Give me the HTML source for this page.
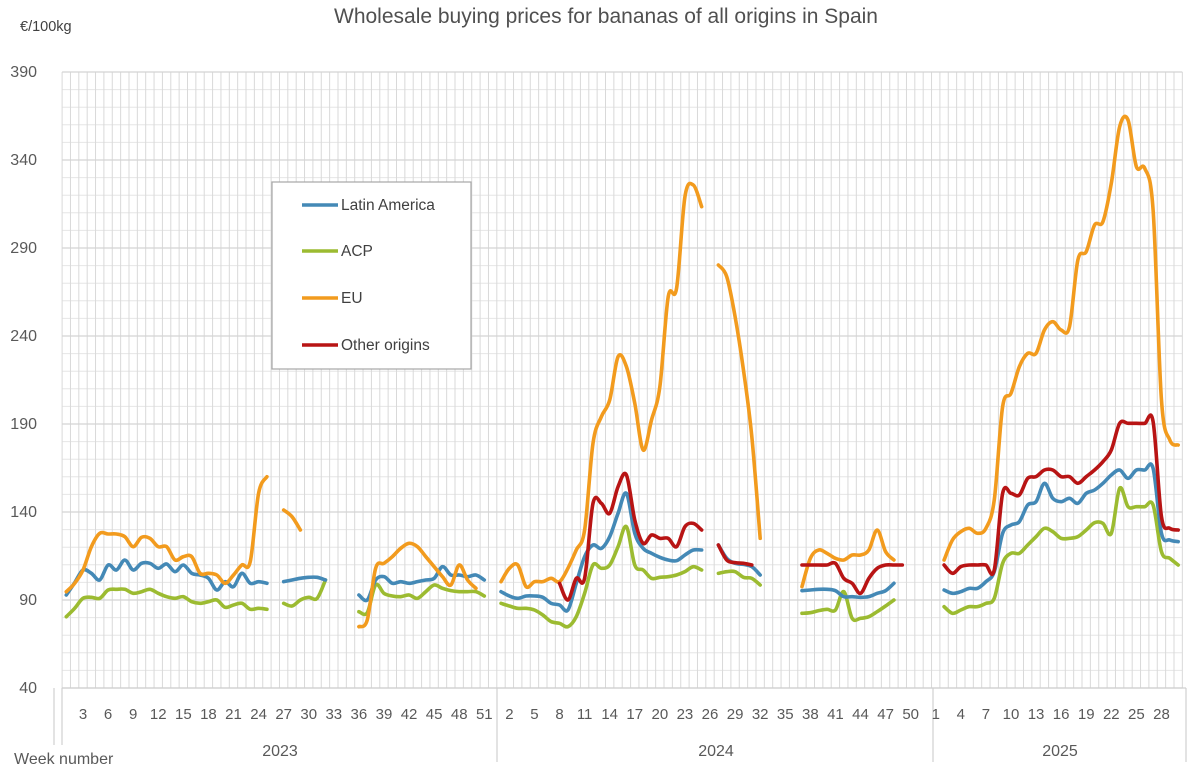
<!DOCTYPE html>
<html><head><meta charset="utf-8"><style>
body{margin:0;background:#fff;}
svg{display:block;font-family:"Liberation Sans",sans-serif;}
</style></head><body>
<svg id="c" width="1200" height="776" xmlns="http://www.w3.org/2000/svg">
<text x="606" y="23" text-anchor="middle" font-size="21" fill="#505050">Wholesale buying prices for bananas of all origins in Spain</text>
<text x="20" y="31" font-size="14.5" fill="#404040">€/100kg</text>
<g id="grid"></g>
<g id="series" fill="none" stroke-width="3.6" stroke-linejoin="round" stroke-linecap="round"></g>
<rect x="272" y="182" width="199" height="187" fill="#fff" stroke="#a6a6a6" stroke-width="1.2"/>
<g stroke-width="3.6">
<line x1="302" y1="205" x2="338" y2="205" stroke="#4489b6"/>
<line x1="302" y1="251" x2="338" y2="251" stroke="#9cbb31"/>
<line x1="302" y1="298" x2="338" y2="298" stroke="#f29b1e"/>
<line x1="302" y1="345" x2="338" y2="345" stroke="#b81414"/>
</g>
<g font-size="15.5" fill="#404040">
<text x="341" y="210">Latin America</text>
<text x="341" y="256">ACP</text>
<text x="341" y="303">EU</text>
<text x="341" y="350">Other origins</text>
</g>
<g id="labels" font-size="16" fill="#595959"></g>
<text x="14" y="764" font-size="16" fill="#595959">Week number</text>
</svg>
<script>
const NS="http://www.w3.org/2000/svg";
function el(p,t,a,txt){const e=document.createElementNS(NS,t);for(const k in a)e.setAttribute(k,a[k]);if(txt!==undefined)e.textContent=txt;p.appendChild(e);return e;}
const g=document.getElementById('grid'),L=document.getElementById('labels'),S=document.getElementById('series');
const X0=62.1,DX=8.36,N=134,Y40=688,PU=1.76;
const yv=v=>Y40-(v-40)*PU;
for(let v=40;v<=390;v+=10){if((v-40)%50)el(g,'line',{x1:X0,x2:X0+N*DX,y1:yv(v),y2:yv(v),stroke:'#e6e6e6','stroke-width':1});}
for(let k=0;k<=N;k++){const x=X0+k*DX;el(g,'line',{x1:x,x2:x,y1:yv(390),y2:Y40,stroke:'#d9d9d9','stroke-width':1});}
for(let v=40;v<=390;v+=50){el(g,'line',{x1:X0,x2:X0+N*DX,y1:yv(v),y2:yv(v),stroke:'#d4d4d4','stroke-width':1.2});
 el(L,'text',{x:37,y:yv(v)+5,'text-anchor':'end'},String(v));}
[[54,688,745],[62,688,745],[497,688,762],[933,688,762],[1186,688,762]].forEach(a=>el(g,'line',{x1:a[0],x2:a[0],y1:a[1],y2:a[2],stroke:'#d0d0d0','stroke-width':1.2}));
el(g,'line',{x1:62,x2:1186,y1:688,y2:688,stroke:'#d0d0d0','stroke-width':1.2});
const xi=i=>66.3+DX*i;
for(let i=0;i<N;i++){if(i%3==2){let w=i<52?i+1:(i<104?i-51:i-103);el(L,'text',{x:xi(i),y:719,'text-anchor':'middle','font-size':15},String(w));}}
el(L,'text',{x:280,y:756,'text-anchor':'middle'},'2023');
el(L,'text',{x:716,y:756,'text-anchor':'middle'},'2024');
el(L,'text',{x:1060,y:756,'text-anchor':'middle'},'2025');
function path(pts){let d='M'+pts[0][0]+','+pts[0][1];
 for(let k=0;k<pts.length-1;k++){const p0=pts[k-1]||pts[k],p1=pts[k],p2=pts[k+1],p3=pts[k+2]||p2,t=6;
  d+=` C${p1[0]+(p2[0]-p0[0])/t},${p1[1]+(p2[1]-p0[1])/t} ${p2[0]-(p3[0]-p1[0])/t},${p2[1]-(p3[1]-p1[1])/t} ${p2[0]},${p2[1]}`;}
 return d;}
function seg(col,year,w0,off,vals){const base=year==2023?-1:(year==2024?51:103);
 const pts=vals.map((v,k)=>[xi(base+w0+k),off===null?v:off+v/3]);
 el(S,'path',{d:path(pts),stroke:col});}
const LA='#4489b6',ACP='#9cbb31',EU='#f29b1e',OT='#b81414';
seg(ACP,2023,1,null,[616.7,608.3,598.3,597.3,598.3,590,589.3,589.3,593.3,591.7,589.3,593.3,596.7,598.3,596.7,601.7,603.3,601.7,600,607.3,605,603.3,609.3,608.3,609.3]);
seg(LA,2023,1,null,[595,582.7,570,573.3,580,565,570,560,570,563.3,563.3,568.3,564,571.7,565,573.3,575,578.3,590,581.7,586.7,573.3,583.3,581.7,583.3]);
seg(EU,2023,1,null,[591.7,583.3,570,546.7,533.3,534,534,536.7,546.7,537.3,538.3,546.7,546.7,560,556.7,556.7,573.3,573.3,575,583.3,575,565,561.7,493.3,476.7]);
seg(ACP,2023,27,130,[1420,1428,1410,1402,1405,1350]);
seg(LA,2023,27,130,[1355,1350,1345,1342,1342,1350]);
seg(EU,2023,27,130,[1140,1160,1200]);
seg(ACP,2023,36,130,[1445,1448,1365,1390,1398,1400,1395,1405,1385,1365,1375,1382,1385,1385,1385,1398]);
seg(LA,2023,36,130,[1395,1410,1350,1340,1360,1355,1360,1355,1350,1345,1310,1335,1335,1340,1335,1350]);
seg(EU,2023,36,130,[1490,1470,1315,1300,1280,1255,1240,1250,1280,1310,1340,1365,1305,1350,1375]);
seg(ACP,2024,1,170,[1300,1308,1315,1315,1320,1335,1355,1360,1370,1340,1270,1185,1195,1185,1130,1070,1185,1200,1225,1222,1220,1215,1205,1190,1200]);
seg(LA,2024,1,170,[1265,1278,1285,1278,1278,1282,1300,1305,1320,1240,1160,1125,1135,1100,1030,970,1090,1135,1150,1162,1170,1172,1155,1140,1140]);
seg(EU,2024,1,170,[1235,1195,1185,1250,1235,1235,1225,1235,1195,1140,1080,820,740,690,560,590,700,840,750,650,380,355,80,45,110]);
seg(OT,2024,8,170,[1240,1290,1225,1225,1000,1000,1030,950,915,1050,1120,1095,1105,1105,1130,1070,1060,1080]);
seg(ACP,2024,27,170,[1210,1205,1205,1222,1225,1245]);
seg(LA,2024,27,170,[1125,1165,1180,1183,1190,1215]);
seg(EU,2024,27,170,[285,320,440,600,800,1105]);
seg(OT,2024,27,170,[1125,1170,1178,1180,1185]);
seg(ACP,2024,37,170,[1330,1328,1322,1318,1320,1265,1345,1345,1340,1325,1308,1290]);
seg(LA,2024,37,170,[1262,1260,1258,1258,1262,1280,1280,1282,1280,1270,1262,1240]);
seg(EU,2024,37,170,[1250,1165,1140,1150,1165,1170,1155,1155,1140,1080,1145,1170]);
seg(OT,2024,37,170,[1185,1185,1185,1185,1180,1225,1240,1270,1225,1195,1185,1185,1185]);
seg(ACP,2025,2,100,[1520,1540,1530,1520,1520,1510,1495,1390,1360,1360,1335,1310,1285,1295,1315,1315,1310,1290,1268,1270,1300,1165,1220,1220,1220,1215,1355,1375,1395]);
seg(LA,2025,2,100,[1470,1480,1475,1465,1465,1445,1415,1300,1275,1265,1215,1205,1150,1195,1205,1195,1210,1180,1170,1150,1125,1110,1135,1110,1110,1105,1300,1320,1325]);
seg(EU,2025,2,100,[1380,1320,1295,1285,1300,1285,1200,920,880,800,760,760,690,665,690,680,480,455,375,365,250,80,60,200,205,330,900,1020,1035]);
seg(OT,2025,2,100,[1395,1420,1400,1395,1395,1395,1410,1180,1180,1185,1135,1130,1110,1110,1130,1130,1150,1130,1110,1085,1050,970,970,970,970,965,1250,1285,1290]);
</script>
</body></html>
